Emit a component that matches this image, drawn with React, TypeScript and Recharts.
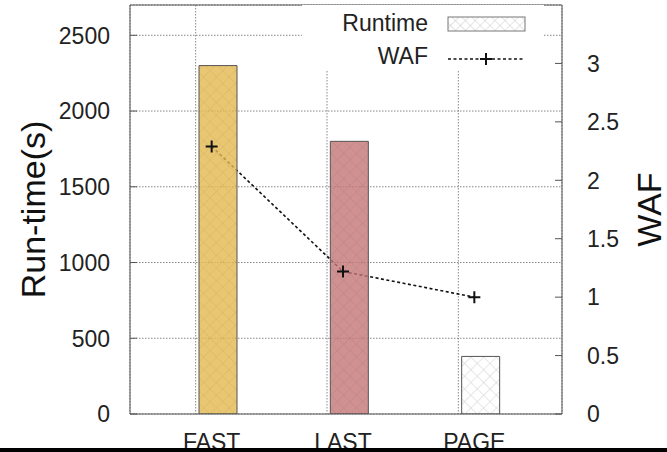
import React from 'react';
import {
  ComposedChart,
  Bar,
  Line,
  XAxis,
  YAxis,
  CartesianGrid,
  Legend,
  ReferenceLine,
  Cell,
} from 'recharts';

const categories = ['FAST', 'LAST', 'PAGE'];
const runtimeValues = [2300, 1800, 380];
const wafValues = [2.29, 1.22, 1.0];
const leftTicks = [0, 500, 1000, 1500, 2000, 2500];
const rightTicks = [0, 0.5, 1, 1.5, 2, 2.5, 3];
const barFills = ['url(#hatchFast)', 'url(#hatchLast)', 'url(#hatchPage)'];
const seriesNames = ['Runtime', 'WAF'];

const data = categories.map((c, i) => ({
  name: c,
  runtime: runtimeValues[i],
  waf: wafValues[i],
}));

const FONT = '"Liberation Sans", Arial, Helvetica, sans-serif';
const TICK_FS = 23;

const LeftTick = (props: any) => {
  const { x, y, payload } = props;
  return (
    <g>
      <line x1={x + 20} x2={x + 27} y1={y} y2={y} stroke="#555" strokeWidth={1} />
      <text x={x} y={y} dy="0.36em" textAnchor="end" fontSize={TICK_FS} fontFamily={FONT} fill="#222">
        {payload.value}
      </text>
    </g>
  );
};

const RightTick = (props: any) => {
  const { x, y, payload } = props;
  return (
    <g>
      <line x1={x - 25} x2={x - 32} y1={y} y2={y} stroke="#555" strokeWidth={1} />
      <text x={x} y={y} dy="0.36em" textAnchor="start" fontSize={TICK_FS} fontFamily={FONT} fill="#222">
        {payload.value}
      </text>
    </g>
  );
};

const BottomTick = (props: any) => {
  const { x, y, payload } = props;
  return (
    <text x={x} y={y} dy={16} textAnchor="middle" fontSize={TICK_FS} fontFamily={FONT} fill="#222">
      {payload.value}
    </text>
  );
};

const PlusDot = (props: any) => {
  const { cx, cy } = props;
  if (cx == null || cy == null) return null;
  return (
    <path
      d={`M${cx - 6},${cy}H${cx + 6}M${cx},${cy - 6}V${cy + 6}`}
      stroke="#111"
      strokeWidth={2}
      fill="none"
    />
  );
};

const LeftTitle = (props: any) => {
  const { viewBox, value } = props;
  const x = viewBox.x + 45;
  const y = viewBox.y + viewBox.height / 2;
  return (
    <text x={x} y={y} transform={`rotate(-90, ${x}, ${y})`} textAnchor="middle" fontSize={34} fontFamily={FONT} fill="#111">
      {value}
    </text>
  );
};

const RightTitle = (props: any) => {
  const { viewBox, value } = props;
  const x = viewBox.x + 99;
  const y = viewBox.y + viewBox.height / 2;
  return (
    <text x={x} y={y} transform={`rotate(-90, ${x}, ${y})`} textAnchor="middle" fontSize={34} fontFamily={FONT} fill="#111">
      {value}
    </text>
  );
};

const renderLegend = (props: any) => {
  const payload: any[] = props.payload || [];
  const find = (n: string) => payload.find((p) => p.value === n);
  const rt = find(seriesNames[0]);
  const wf = find(seriesNames[1]);
  return (
    <svg width={242} height={66} style={{ display: 'block', background: '#fff' }}>
      <defs>
        <pattern id="hatchLegend" width="7" height="7" patternUnits="userSpaceOnUse" patternTransform="rotate(45)">
          <rect width="7" height="7" fill="#fff" />
          <line x1="0" y1="0" x2="0" y2="7" stroke="#ccc" strokeWidth="1" />
          <line x1="0" y1="0" x2="7" y2="0" stroke="#ccc" strokeWidth="1" />
        </pattern>
      </defs>
      <text x={126} y={26} textAnchor="end" fontSize={TICK_FS} fontFamily={FONT} fill="#222">
        {rt ? rt.value : seriesNames[0]}
      </text>
      <rect x={146} y={12} width={77} height={14} fill="url(#hatchLegend)" stroke="#777" strokeWidth={1} />
      <text x={126} y={59} textAnchor="end" fontSize={TICK_FS} fontFamily={FONT} fill="#222">
        {wf ? wf.value : seriesNames[1]}
      </text>
      <line x1={146} x2={221} y1={54} y2={54} stroke="#111" strokeWidth={1.6} strokeDasharray="3 2.5" />
      <path d="M178,54H190M184,48V60" stroke="#111" strokeWidth={2} />
    </svg>
  );
};

export default function App() {
  return (
    <div
      style={{
        position: 'absolute',
        left: 0,
        top: 0,
        width: 667,
        height: 452,
        background: '#fff',
        overflow: 'hidden',
        fontFamily: FONT,
      }}
    >
      <ComposedChart
        width={667}
        height={452}
        data={data}
        margin={{ top: 5, right: 0, bottom: 0, left: 0 }}
      >
        <defs>
          <pattern id="hatchFast" width="9" height="9" patternUnits="userSpaceOnUse" patternTransform="rotate(45)">
            <rect width="9" height="9" fill="#E3B94F" />
            <line x1="0" y1="0" x2="0" y2="9" stroke="#CDA23E" strokeWidth="1" />
            <line x1="0" y1="0" x2="9" y2="0" stroke="#CDA23E" strokeWidth="1" />
          </pattern>
          <pattern id="hatchLast" width="9" height="9" patternUnits="userSpaceOnUse" patternTransform="rotate(45)">
            <rect width="9" height="9" fill="#C47676" />
            <line x1="0" y1="0" x2="0" y2="9" stroke="#AF6464" strokeWidth="1" />
            <line x1="0" y1="0" x2="9" y2="0" stroke="#AF6464" strokeWidth="1" />
          </pattern>
          <pattern id="hatchPage" width="9" height="9" patternUnits="userSpaceOnUse" patternTransform="rotate(45)">
            <rect width="9" height="9" fill="#fff" />
            <line x1="0" y1="0" x2="0" y2="9" stroke="#c4c4c4" strokeWidth="1" />
            <line x1="0" y1="0" x2="9" y2="0" stroke="#c4c4c4" strokeWidth="1" />
          </pattern>
        </defs>
        <XAxis
          xAxisId="line"
          dataKey="name"
          orientation="bottom"
          padding={{ left: 16, right: 22 }}
          height={38}
          tickSize={0}
          tickMargin={20}
          tickLine={false}
          axisLine={{ stroke: '#555' }}
          tick={<BottomTick />}
          interval={0}
        />
        <XAxis xAxisId="bar" dataKey="name" hide orientation="top" height={0} padding={{ left: 22, right: 16 }} />
        <XAxis xAxisId="grid" dataKey="name" hide orientation="top" height={0} padding={{ left: 0, right: 38 }} />
        <YAxis
          yAxisId="left"
          domain={[0, 2700]}
          ticks={leftTicks}
          width={130}
          tickSize={0}
          tickMargin={20}
          tickLine={false}
          axisLine={{ stroke: '#555' }}
          tick={<LeftTick />}
          interval={0}
          allowDataOverflow
          label={{ value: 'Run-time(s)', content: LeftTitle }}
        />
        <YAxis
          yAxisId="right"
          orientation="right"
          domain={[0, 3.5]}
          ticks={rightTicks}
          width={105}
          tickSize={0}
          tickMargin={25}
          tickLine={false}
          axisLine={{ stroke: '#555' }}
          tick={<RightTick />}
          interval={0}
          allowDataOverflow
          label={{ value: 'WAF', content: RightTitle }}
        />
        <CartesianGrid
          xAxisId="grid"
          yAxisId="left"
          stroke="#888"
          strokeDasharray="1.5 1.5"
        />
        <ReferenceLine xAxisId="line" yAxisId="left" y={2700} stroke="#555" />
        <Line
          xAxisId="line"
          yAxisId="right"
          type="linear"
          dataKey="waf"
          name={seriesNames[1]}
          stroke="#111"
          strokeWidth={1.6}
          strokeDasharray="3 2.5"
          dot={<PlusDot />}
          activeDot={false}
          isAnimationActive={false}
          {...({ zIndex: 250 } as any)}
        />
        <Bar
          xAxisId="bar"
          yAxisId="left"
          dataKey="runtime"
          name={seriesNames[0]}
          barSize={38}
          stroke="#555"
          strokeWidth={1}
          fillOpacity={0.8}
          isAnimationActive={false}
          {...({ zIndex: 300 } as any)}
        >
          {data.map((d, i) => (
            <Cell key={d.name} fill={barFills[i]} />
          ))}
        </Bar>
        <Legend
          layout="horizontal"
          verticalAlign="middle"
          align="center"
          wrapperStyle={{ left: 302, top: 5, width: 242, height: 66 }}
          content={renderLegend}
        />
      </ComposedChart>
      <div
        style={{
          position: 'absolute',
          left: 0,
          top: 448,
          width: 667,
          height: 4,
          background: '#000',
        }}
      />
    </div>
  );
}
